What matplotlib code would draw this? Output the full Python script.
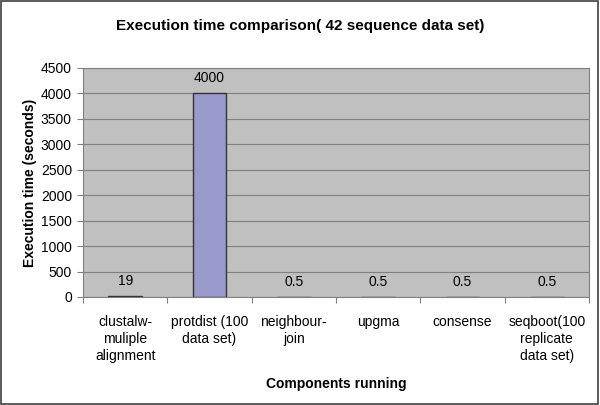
import matplotlib
matplotlib.use("Agg")
import matplotlib.pyplot as plt
from matplotlib.patches import Rectangle

categories = ["clustalw-\nmuliple\nalignment", "protdist (100\ndata set)", "neighbour-\njoin",
              "upgma", "consense", "seqboot(100\nreplicate\ndata set)"]
values = [19, 4000, 0.5, 0.5, 0.5, 0.5]
value_labels = ["19", "4000", "0.5", "0.5", "0.5", "0.5"]
yticks = [0, 500, 1000, 1500, 2000, 2500, 3000, 3500, 4000, 4500]

plt.rcParams['font.family'] = ['Liberation Sans', 'DejaVu Sans']

fig = plt.figure(figsize=(6.0, 4.05), dpi=100)
fig.patch.set_facecolor("white")
W, H = 600, 405
left, right, top, bottom = 83, 589, 68, 297
ax = fig.add_axes([left / W, 1 - bottom / H, (right - left) / W, (bottom - top) / H])
ax.set_facecolor("#C0C0C0")

x = list(range(len(categories)))
ax.bar(x, values, width=0.4, color="#9999CC", edgecolor="#333333", linewidth=1.0, zorder=3)
for xi, v, lab in zip(x, values, value_labels):
    ax.annotate(lab, (xi, v), xytext=(0, 6), textcoords="offset points",
                ha="center", va="bottom", fontsize=10, color="black")

ax.set_xlim(-0.5, len(categories) - 0.5)
ax.set_ylim(0, 4500)
ax.set_yticks(yticks)
ax.set_yticklabels([str(t) for t in yticks], fontsize=10)
ax.yaxis.grid(True, color="#808080", linewidth=0.8, zorder=0)
ax.set_axisbelow(True)

ax.set_xticks([i + 0.5 for i in range(-1, len(categories))], minor=False)
ax.set_xticklabels([""] * (len(categories) + 1))
ax.set_xticks(x, minor=True)
ax.set_xticklabels(categories, minor=True, fontsize=10, linespacing=1.28)
ax.tick_params(axis="x", which="minor", length=0, pad=13)
ax.tick_params(axis="x", which="major", length=4, color="#808080", direction="out")
ax.tick_params(axis="y", length=4, color="#808080", direction="out", pad=4)

for s in ["top", "right", "left", "bottom"]:
    ax.spines[s].set_color("#808080")
    ax.spines[s].set_linewidth(0.8)

ax.set_ylabel("Execution time (seconds)", fontsize=10, fontweight="bold", labelpad=3)
ax.set_xlabel("Components running", fontsize=10, fontweight="bold", labelpad=10)
fig.text(0.5, 1 - 26 / H, "Execution time comparison( 42 sequence data set)",
         ha="center", va="center", fontsize=11, fontweight="bold")

fig.patches.append(Rectangle((0.002, 0.003), 0.995, 0.994, transform=fig.transFigure,
                             fill=False, edgecolor="#404040", linewidth=1.2))

fig.savefig("out.png", dpi=100)
